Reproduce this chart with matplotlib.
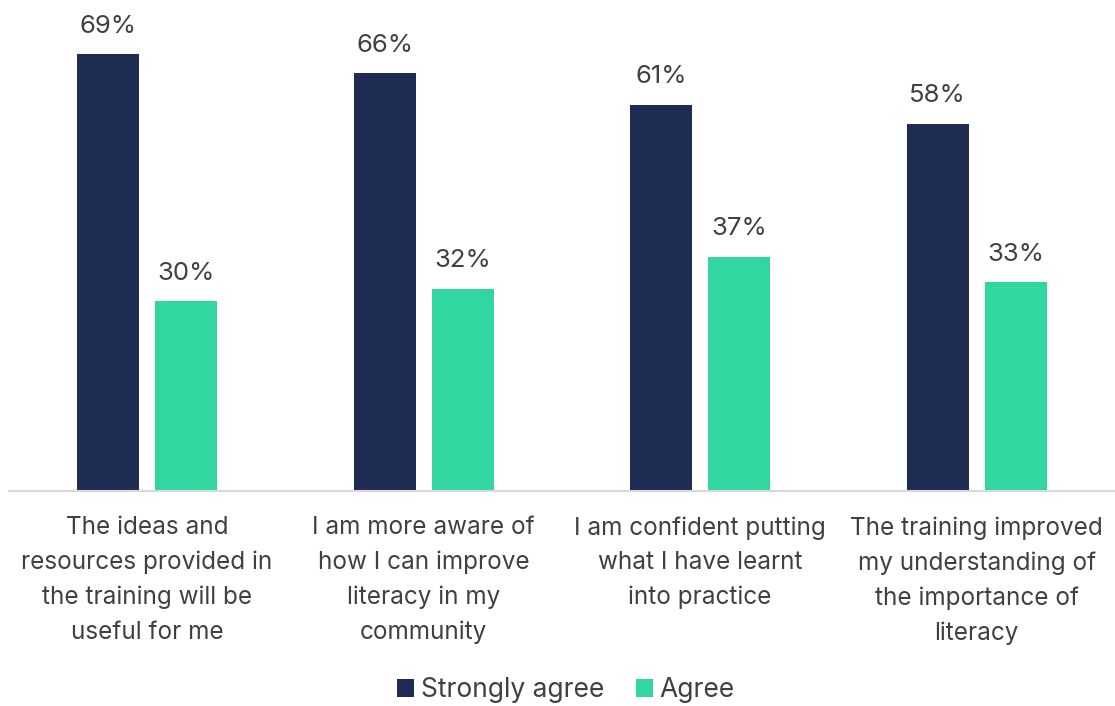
import matplotlib
matplotlib.use("Agg")
import matplotlib.pyplot as plt
import numpy as np
from matplotlib.patches import Patch

categories = [
    "The ideas and\nresources provided in\nthe training will be\nuseful for me",
    "I am more aware of\nhow I can improve\nliteracy in my\ncommunity",
    "I am confident putting\nwhat I have learnt\ninto practice",
    "The training improved\nmy understanding of\nthe importance of\nliteracy",
]
series_names = ["Strongly agree", "Agree"]
strongly_agree = [69, 66, 61, 58]
agree = [30, 32, 37, 33]

colors = ["#1e2b52", "#32d6a0"]
text_color = "#404040"
plt.rcParams["font.family"] = ["Inter", "DejaVu Sans"]

W, H = 1115, 706
fig = plt.figure(figsize=(W / 100, H / 100), dpi=100)
ax = fig.add_axes([8.75 / W, 1 - 491 / H, (1115 - 8.75) / W, 491 / H])

x = np.arange(len(categories))
bw = 0.224
off = 0.141
for vals, dx, c in [(strongly_agree, -off, colors[0]), (agree, off, colors[1])]:
    bars = ax.bar(x + dx, vals, width=bw, color=c, zorder=2)
    for b, v in zip(bars, vals):
        ax.annotate(f"{v}%", (b.get_x() + b.get_width() / 2, v),
                    xytext=(0, 12), textcoords="offset points",
                    ha="center", va="bottom", fontsize=18.5, color=text_color)

ax.set_xlim(-0.5, len(categories) - 0.5)
ax.set_ylim(0, 77.6)
ax.set_yticks([])
ax.set_xticks(x)
ax.set_xticklabels(categories, fontsize=17.5, color=text_color, linespacing=1.63)
ax.tick_params(axis="x", length=0, pad=18)
for s in ["top", "right", "left"]:
    ax.spines[s].set_visible(False)
ax.spines["bottom"].set_color("#d9d9d9")
ax.spines["bottom"].set_linewidth(1.5)

handles = [Patch(facecolor=c, label=n) for c, n in zip(colors, series_names)]
leg = fig.legend(handles=handles, loc="center", bbox_to_anchor=(566 / W, 1 - 690 / H),
                 ncol=2, frameon=False, fontsize=19, handlelength=0.65,
                 handleheight=0.65, handletextpad=0.25, columnspacing=1.2)
for t in leg.get_texts():
    t.set_color(text_color)

fig.savefig("out.png", dpi=100)
